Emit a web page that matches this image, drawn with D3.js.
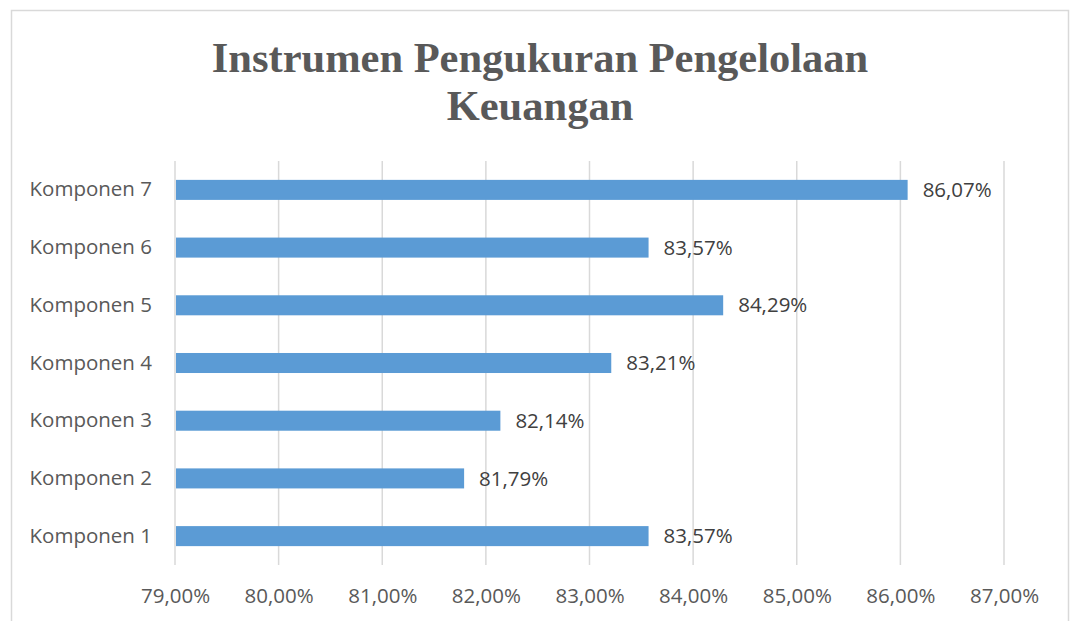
<!DOCTYPE html>
<html><head><meta charset="utf-8">
<script src="https://cdn.jsdelivr.net/npm/d3@7"></script>
<style>body{margin:0;background:#fff}</style>
</head><body>
<svg id="c" width="1075" height="621"></svg>
<script>
const categories = ["Komponen 1","Komponen 2","Komponen 3","Komponen 4","Komponen 5","Komponen 6","Komponen 7"];
const values = [83.57, 81.79, 82.14, 83.21, 84.29, 83.57, 86.07];
const tickValues = [79,80,81,82,83,84,85,86,87];
const titleLines = ["Instrumen Pengukuran Pengelolaan","Keuangan"];

const svg = d3.select("#c");
const fmt = v => v.toFixed(2).replace(".", ",") + "%";

svg.append("rect").attr("x",11.5).attr("y",10.5).attr("width",1057).attr("height",640)
  .attr("fill","#fff").attr("stroke","#d9d9d9").attr("stroke-width",1.5);

svg.append("g").selectAll("text").data(titleLines).join("text")
  .attr("x",540).attr("y",(d,i)=>72+i*48).attr("text-anchor","middle")
  .attr("font-family","Liberation Serif, Times New Roman, serif").attr("font-weight","bold")
  .attr("font-size",42.5).attr("fill","#595959").text(d=>d);

const x = d3.scaleLinear().domain([79,87]).range([175,1004]);
const y = d3.scaleBand().domain(categories.slice().reverse()).range([161,565]).paddingInner(0.653).paddingOuter(0.327);

const grid = svg.append("g");
grid.selectAll("line").data(tickValues).join("line")
  .attr("x1",d=>x(d)).attr("x2",d=>x(d)).attr("y1",161).attr("y2",565)
  .attr("stroke","#d9d9d9").attr("stroke-width",1.5);

const fs = 20.5;
const xAxis = svg.append("g").attr("transform","translate(0,565)")
  .call(d3.axisBottom(x).tickValues(tickValues).tickFormat(fmt).tickSize(0).tickPadding(23));
xAxis.select(".domain").remove();
xAxis.selectAll("text").attr("font-family","Open Sans, sans-serif").attr("font-size",fs).attr("fill","#595959");

const yAxis = svg.append("g").attr("transform","translate(152,0)")
  .call(d3.axisLeft(y).tickSize(0).tickPadding(0));
yAxis.select(".domain").remove();
yAxis.selectAll("text").attr("font-family","Open Sans, sans-serif").attr("font-size",fs).attr("fill","#595959");

const data = categories.map((c,i)=>({c, v: values[i]}));
svg.append("g").selectAll("rect").data(data).join("rect")
  .attr("x",x(79)+1).attr("y",d=>y(d.c)).attr("height",y.bandwidth())
  .attr("width",d=>x(d.v)-x(79)-1).attr("fill","#5b9bd5");

svg.append("g").selectAll("text").data(data).join("text")
  .attr("x",d=>x(d.v)+15).attr("y",d=>y(d.c)+y.bandwidth()/2).attr("dy","0.35em")
  .attr("font-family","Open Sans, sans-serif").attr("font-size",fs).attr("fill","#404040")
  .text(d=>fmt(d.v));
</script>
</body></html>
